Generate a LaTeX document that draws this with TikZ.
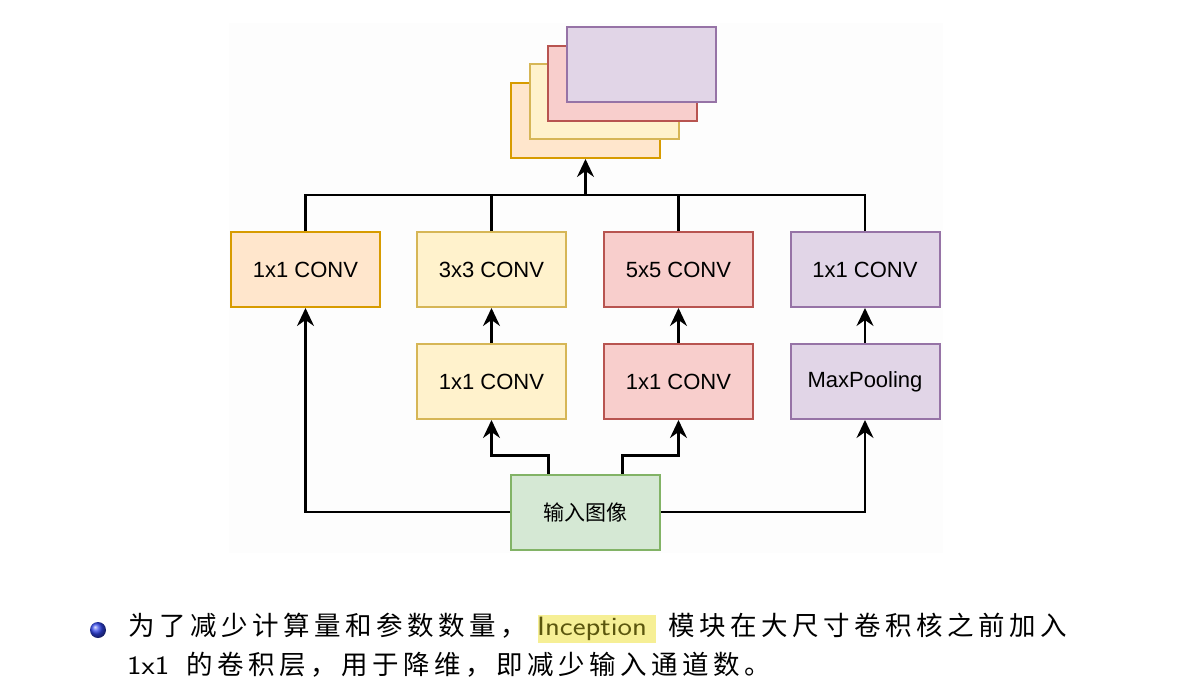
\documentclass[tikz,border=0pt]{standalone}
\usepackage{fontspec}
\usepackage{graphicx}
\usetikzlibrary{arrows.meta}
\newfontfamily\boxfont{Liberation Sans}
\newfontfamily\cjkfont{Noto Sans CJK SC}
\newfontfamily\cjkspaced{Noto Sans CJK SC}[LetterSpace=17]
\definecolor{orfill}{HTML}{FFE6CC}\definecolor{ordraw}{HTML}{D79B00}
\definecolor{yefill}{HTML}{FFF2CC}\definecolor{yedraw}{HTML}{D6B656}
\definecolor{refill}{HTML}{F8CECC}\definecolor{redraw}{HTML}{B85450}
\definecolor{pufill}{HTML}{E1D5E7}\definecolor{pudraw}{HTML}{9673A6}
\definecolor{grfill}{HTML}{D5E8D4}\definecolor{grdraw}{HTML}{82B366}
\definecolor{hlfill}{HTML}{F6EF95}\definecolor{hltext}{HTML}{5B560E}
\definecolor{beamerblue}{RGB}{50,70,235}
\begin{document}
\begin{tikzpicture}[x=1pt,y=-1pt,
  box/.style={draw, line width=2pt, minimum width=149pt, minimum height=75pt, inner sep=0pt,
              font=\boxfont\fontsize{22}{26}\selectfont},
  orbox/.style={box, fill=orfill, draw=ordraw},
  yebox/.style={box, fill=yefill, draw=yedraw},
  rebox/.style={box, fill=refill, draw=redraw},
  pubox/.style={box, fill=pufill, draw=pudraw},
  grbox/.style={box, fill=grfill, draw=grdraw},
  conn/.style={line width=2.2pt},
  arr/.style={conn, -{Stealth[length=18pt,width=17pt,inset=6pt]}},
  bodytext/.style={anchor=base west, inner sep=0pt, font=\fontsize{26.5}{30}\selectfont}
]
\useasboundingbox (0,0) rectangle (1197,686);
\fill[white] (0,0) rectangle (1197,686);
\fill[black!0.7] (229,23) rectangle (943,553);

% stacked output maps
\node[orbox] (s1) at (585.5,120.5) {};
\node[yebox] (s2) at (604,101.5) {};
\node[rebox] (s3) at (622.5,83) {};
\node[pubox] (s4) at (641,64) {};

% row 1
\node[orbox] (c1) at (305.5,269.5) {1x1 CONV};
\node[yebox] (c2) at (491.5,269.5) {3x3 CONV};
\node[rebox] (c3) at (678.5,269.5) {5x5 CONV};
\node[pubox] (c4) at (865,269.5) {1x1 CONV};

% row 2
\node[yebox] (r2) at (491.5,381.5) {1x1 CONV};
\node[rebox] (r3) at (678.5,381.5) {1x1 CONV};
\node[pubox] (r4) at (865,381.5) {MaxPooling};

% input
\node[grbox, font=\cjkfont\fontsize{21}{26}\selectfont] (in) at (585.5,512) {输入图像};

% concat bus
\coordinate (bus) at (585.5,195);
\draw[conn] (c1.north) |- (bus);
\draw[conn] (c4.north) |- (bus);
\draw[conn] (c2.north) -- (c2.north |- bus);
\draw[conn] (c3.north) -- (c3.north |- bus);
\draw[arr] (bus) -- (s1.south);

% row2 -> row1
\draw[arr] (r2.north) -- (c2.south);
\draw[arr] (r3.north) -- (c3.south);
\draw[arr] (r4.north) -- (c4.south);

% input -> branches
\draw[arr] ([xshift=-37pt]in.north) -- ++(0,-18) -| (r2.south);
\draw[arr] ([xshift=37pt]in.north) -- ++(0,-18) -| (r3.south);
\draw[arr] (in.west) -| (c1.south);
\draw[arr] (in.east) -| (r4.south);

% bullet text
\node[circle, minimum size=16pt, inner sep=0pt, shading=ball, ball color=beamerblue] (bullet) at (98,630) {};
\node[bodytext] (l1a) at (128,635) {\cjkspaced 为了减少计算量和参数数量，};
\fill[hlfill] (538,615) rectangle (656,643);
\node[bodytext, text=hltext] (l1b) at (537,635) {\scalebox{1.157}[1]{\sffamily Inception}};
\node[bodytext] (l1c) at (668,635) {\cjkspaced 模块在大尺寸卷积核之前加入};
\node[bodytext] (l2a) at (127,674) {\scalebox{1.157}[1]{\sffamily 1x1}};
\node[bodytext] (l2b) at (186,674) {\cjkspaced 的卷积层，用于降维，即减少输入通道数。};
\end{tikzpicture}
\end{document}
